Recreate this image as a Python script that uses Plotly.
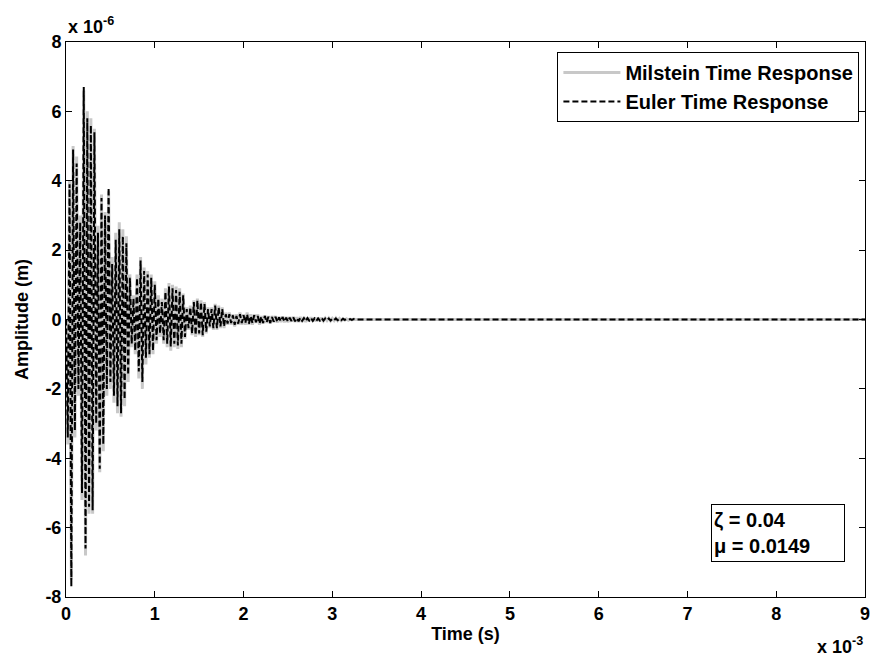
import numpy as np
import plotly.graph_objects as go

# time sampling of the plotted extrema (in units of 1e-3 s)
dt_ms = 0.02

# Euler response extrema, units of 1e-6 m, one per dt_ms starting at t=0
euler_vals = [
    0.0, -3.4, 3.9, -7.7, 4.9, -3.2, 4.5, -2.0, 2.8, -5.0,
    6.7, -6.6, 5.8, -5.4, 5.6, -5.5, 5.4, -3.0, 2.5, -4.3,
    3.5, -3.6, 3.0, -2.0, 3.8, -1.8, 1.6, -2.2, 2.3, -2.5,
    2.6, -2.7, 2.4, -2.3, 2.2, -1.6, 1.2, -0.7, 0.6, -0.9,
    1.2, -1.5, 1.7, -1.8, 1.4, -1.1, 1.3, -1.0, 1.2, -0.9,
    1.0, -0.6, 0.6, -0.4, 0.5, -0.6, 0.8, -0.7, 0.95, -0.78,
    0.9, -0.7, 0.85, -0.75, 0.8, -0.7, 0.7, -0.5, 0.3, -0.25,
    0.35, -0.4, 0.5, -0.45, 0.55, -0.4, 0.5, -0.45, 0.45, -0.35,
    0.3, -0.2, 0.3, -0.25, 0.4, -0.25, 0.35, -0.2, 0.3, -0.2,
    0.15, -0.12, 0.15, -0.1, 0.12, -0.15, 0.1, -0.12, 0.15, -0.1,
    0.12, -0.1, 0.15, -0.12, 0.1, -0.1, 0.12, -0.08, 0.1, -0.12,
    0.08, -0.1, 0.1, -0.08, 0.08, -0.1, 0.07, -0.06, 0.08, -0.07,
    0.06, -0.05, 0.07, -0.06, 0.05, -0.06, 0.05, -0.04, 0.06, -0.05,
    0.04, -0.05, 0.05, -0.04, 0.04, -0.05, 0.04, -0.03, 0.04, -0.04,
    0.03, -0.04, 0.03, -0.03, 0.04, -0.03, 0.03, -0.02, 0.03, -0.03,
    0.02, -0.02, 0.03, -0.02, 0.02, -0.02, 0.02, -0.01, 0.01, -0.01,
    0.01, -0.01, 0.01, 0.0,
]

# Milstein response extrema, same sampling
milstein_vals = [
    0.0, -3.6, 4.0, -7.5, 5.0, -3.4, 4.7, -2.2, 3.0, -5.2,
    6.6, -6.8, 6.0, -5.6, 5.8, -5.6, 5.5, -3.2, 2.7, -4.4,
    3.6, -3.8, 3.1, -2.2, 3.7, -2.0, 1.8, -2.4, 2.5, -2.7,
    2.8, -2.8, 2.6, -2.5, 2.4, -1.8, 1.3, -0.8, 0.7, -1.0,
    1.3, -1.7, 1.8, -2.0, 1.5, -1.3, 1.4, -1.1, 1.3, -1.0,
    1.1, -0.7, 0.7, -0.5, 0.6, -0.7, 0.9, -0.8, 1.05, -0.9,
    1.0, -0.8, 0.95, -0.85, 0.9, -0.8, 0.75, -0.55, 0.35, -0.3,
    0.4, -0.45, 0.55, -0.5, 0.6, -0.45, 0.55, -0.5, 0.5, -0.4,
    0.35, -0.25, 0.35, -0.3, 0.45, -0.3, 0.4, -0.25, 0.35, -0.25,
    0.2, -0.15, 0.2, -0.15, 0.15, -0.2, 0.15, -0.15, 0.2, -0.15,
    0.15, -0.15, 0.2, -0.15, 0.15, -0.15, 0.15, -0.1, 0.15, -0.15,
    0.1, -0.12, 0.12, -0.1, 0.1, -0.12, 0.1, -0.08, 0.1, -0.09,
    0.08, -0.07, 0.09, -0.08, 0.07, -0.08, 0.07, -0.06, 0.08, -0.07,
    0.06, -0.07, 0.07, -0.06, 0.06, -0.07, 0.05, -0.05, 0.06, -0.05,
    0.05, -0.05, 0.05, -0.04, 0.05, -0.04, 0.04, -0.03, 0.04, -0.04,
    0.03, -0.03, 0.04, -0.03, 0.03, -0.03, 0.02, -0.02, 0.02, -0.02,
    0.01, -0.01, 0.01, 0.0,
]

# flat tail of both responses out to the end of the record
tail_t = [9.0]
tail_v = [0.0]

x_ticks = [0, 1, 2, 3, 4, 5, 6, 7, 8, 9]
y_ticks = [-8, -6, -4, -2, 0, 2, 4, 6, 8]

t_e = list(np.arange(len(euler_vals)) * dt_ms) + tail_t
t_m = list(np.arange(len(milstein_vals)) * dt_ms) + tail_t
y_e = euler_vals + tail_v
y_m = milstein_vals + tail_v

FONT = "Arial, 'Liberation Sans', Helvetica, sans-serif"

fig = go.Figure()
fig.add_trace(go.Scatter(
    x=t_m, y=y_m, mode="lines", name="Milstein Time Response",
    line=dict(color="#c8c8c8", width=3),
))
fig.add_trace(go.Scatter(
    x=t_e, y=y_e, mode="lines", name="Euler Time Response",
    line=dict(color="black", width=2, dash="6px,3px"),
))

axis_common = dict(
    showline=True, linecolor="black", linewidth=1, mirror="ticks",
    ticks="inside", ticklen=6, tickcolor="black", showgrid=False,
    zeroline=False, tickfont=dict(size=18, color="black"), automargin=False,
    ticklabeloverflow="allow",
)

fig.update_layout(
    width=870, height=659,
    margin=dict(l=66, r=5, t=42, b=62),
    paper_bgcolor="white", plot_bgcolor="white",
    font=dict(family=FONT, size=18, color="black", weight="bold"),
    xaxis=dict(range=[0, 9], tickvals=x_ticks, ticktext=[str(v) for v in x_ticks],
               title=dict(text="Time (s)", standoff=4, font=dict(size=18)),
               **axis_common),
    yaxis=dict(range=[-8, 8], tickvals=y_ticks, ticktext=[str(v) for v in y_ticks],
               title=dict(text="Amplitude (m)", standoff=12, font=dict(size=18)),
               **axis_common),
    legend=dict(x=0.993, y=0.982, xanchor="right", yanchor="top",
                bordercolor="black", borderwidth=1, bgcolor="white",
                font=dict(size=20), itemwidth=57, tracegroupgap=0),
    showlegend=True,
)

fig.add_annotation(
    xref="paper", yref="paper", x=0.0, y=1.03, xanchor="left", yanchor="middle",
    text="x 10<sup>-6</sup>", showarrow=False, font=dict(size=18),
)
fig.add_annotation(
    xref="paper", yref="paper", x=1.0, y=-0.087, xanchor="right", yanchor="middle",
    text="x 10<sup>-3</sup>", showarrow=False, font=dict(size=18),
)
fig.add_annotation(
    xref="paper", yref="paper", x=0.807, y=0.168, xanchor="left", yanchor="top",
    text="ζ = 0.04<br>μ = 0.0149", showarrow=False, align="left",
    width=128, height=52, borderpad=2, bordercolor="black", borderwidth=1,
    bgcolor="white", font=dict(size=20),
)

fig.write_html("out.html", config={"displayModeBar": False},
               post_script="document.body.style.margin='0px';")
